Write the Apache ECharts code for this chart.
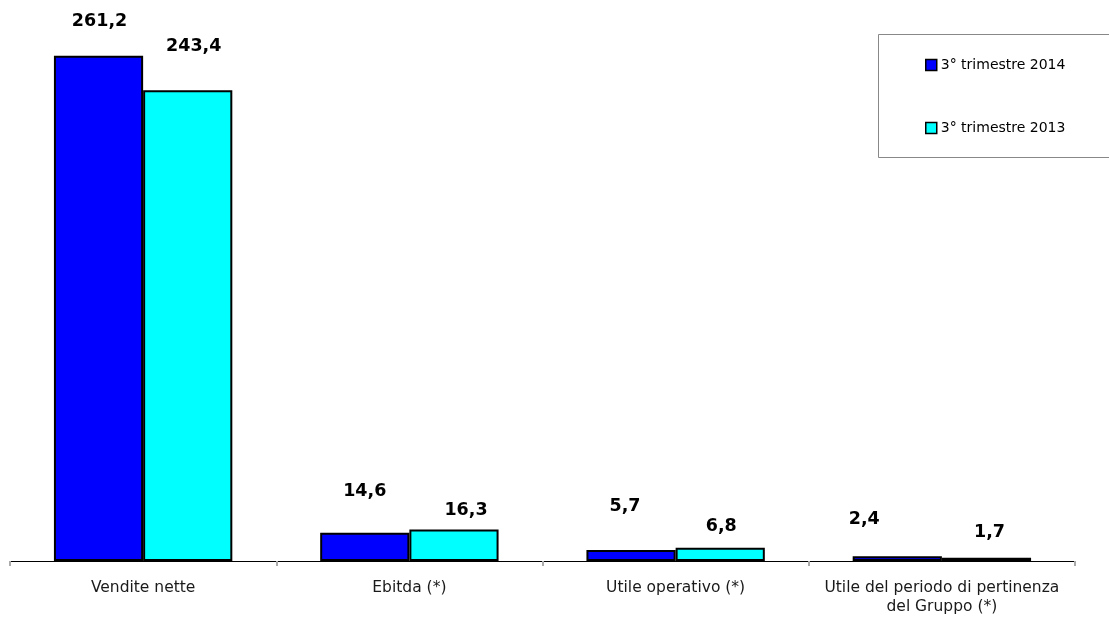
<!DOCTYPE html>
<html>
<head>
<meta charset="utf-8">
<script src="https://cdn.jsdelivr.net/npm/echarts@6/dist/echarts.min.js"></script>
<style>
  html, body { margin: 0; padding: 0; background: #fff; }
  #chart { width: 1109px; height: 618px; }
</style>
</head>
<body>
<div id="chart"></div>
<script>
// Key figures, Q3 2014 vs Q3 2013 (millions of euro)
const categories = [
  'Vendite nette',
  'Ebitda (*)',
  'Utile operativo (*)',
  'Utile del periodo di pertinenza\ndel Gruppo (*)'
];
const seriesNames = ['3° trimestre 2014', '3° trimestre 2013'];
const q3of2014 = [261.2, 14.6, 5.7, 2.4];
const q3of2013 = [243.4, 16.3, 6.8, 1.7];

// Hand-placed value labels: [dx, dy] nudges from the top of each bar
const labelNudge2014 = [[1, -25], [0, -32], [-6, -35], [-33, -28]];
const labelNudge2013 = [[6, -34.5], [12, -10.5], [1, -12.5], [3, -16]];

const FONT = 'DejaVu Sans';
const fmt = v => v.toFixed(1).replace('.', ',');

function buildData(values, nudges) {
  return values.map((v, i) => ({
    value: v,
    label: { offset: nudges[i] }
  }));
}

function barSeries(name, color, values, nudges) {
  return {
    name: name,
    type: 'bar',
    barGap: '0%',
    barCategoryGap: '33%',
    data: buildData(values, nudges),
    itemStyle: { color: color, borderColor: '#000', borderWidth: 2 },
    label: {
      show: true,
      position: 'top',
      distance: 0,
      fontFamily: FONT,
      fontWeight: 'bold',
      fontSize: 17.5,
      color: '#000',
      formatter: p => fmt(p.value)
    }
  };
}

const chart = echarts.init(document.getElementById('chart'), null, { renderer: 'canvas' });

chart.setOption({
  animation: false,
  backgroundColor: '#fff',
  grid: { left: 10, right: 34, top: 0, bottom: 57, containLabel: false },
  xAxis: {
    type: 'category',
    data: categories,
    axisLine: { lineStyle: { color: '#000', width: 1 } },
    axisTick: { show: true, length: 5, lineStyle: { color: '#aaa', width: 2 } },
    axisLabel: {
      margin: 17,
      fontFamily: FONT,
      fontSize: 15.5,
      lineHeight: 19,
      color: '#1a1a1a',
      interval: 0
    }
  },
  yAxis: {
    type: 'value',
    min: 0,
    max: 290,
    show: false,
    splitLine: { show: false }
  },
  legend: {
    orient: 'vertical',
    left: 925,
    top: 58,
    padding: 0,
    itemWidth: 11,
    itemHeight: 11,
    itemGap: 49,
    icon: 'rect',
    itemStyle: { borderColor: '#000', borderWidth: 1.5 },
    textStyle: { fontFamily: FONT, fontSize: 14, color: '#000', padding: [0, 0, 0, -1] },
    data: seriesNames
  },
  graphic: [{
    type: 'rect',
    shape: { x: 878.5, y: 34.5, width: 240, height: 123 },
    style: { fill: 'none', stroke: '#888', lineWidth: 1 },
    silent: true
  }],
  series: [
    barSeries(seriesNames[0], '#0000ff', q3of2014, labelNudge2014),
    barSeries(seriesNames[1], '#00ffff', q3of2013, labelNudge2013)
  ]
});
</script>
</body>
</html>
